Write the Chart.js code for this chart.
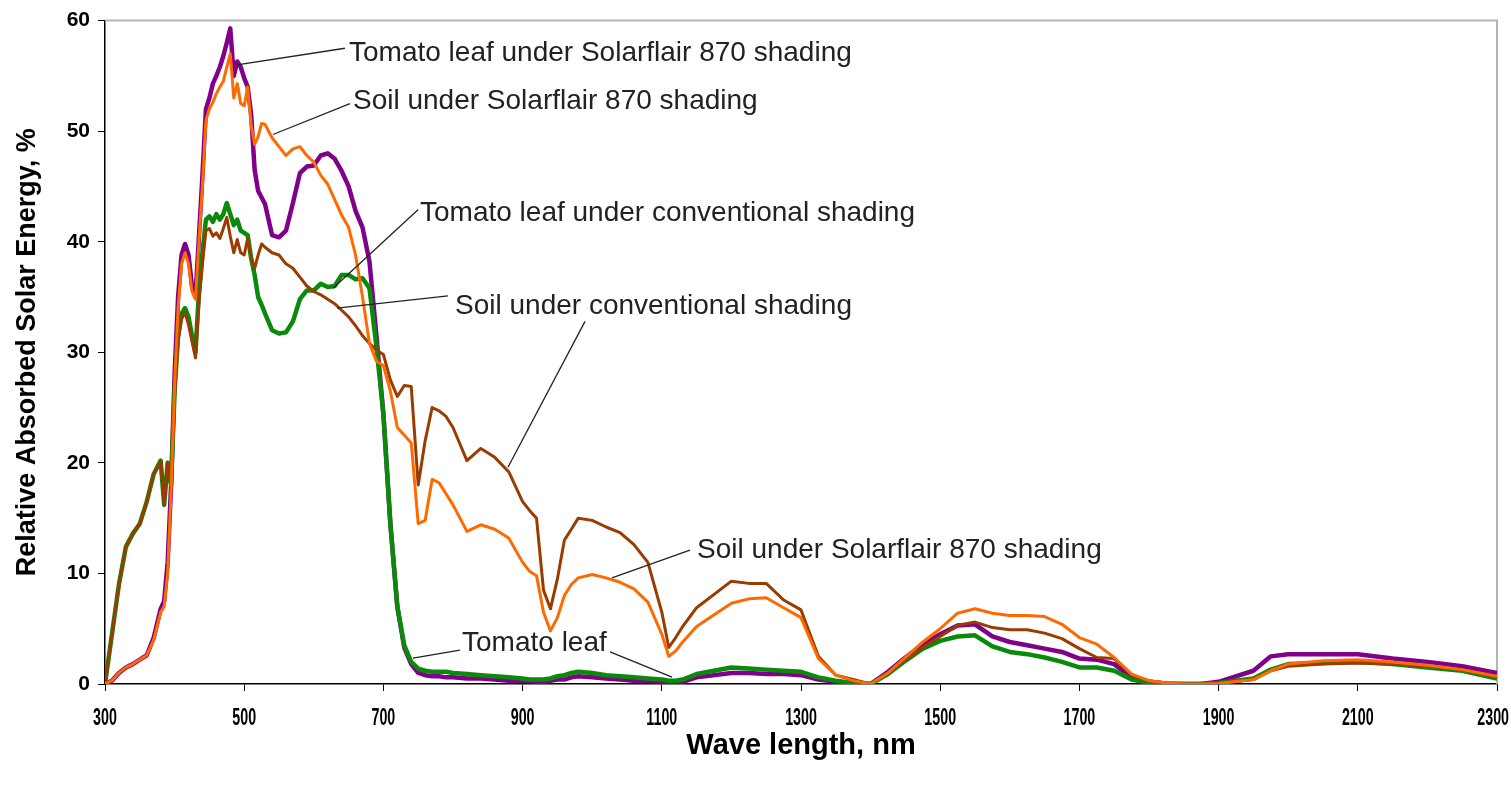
<!DOCTYPE html>
<html>
<head>
<meta charset="utf-8">
<script src="https://cdn.jsdelivr.net/npm/chart.js@4.4.1/dist/chart.umd.min.js"></script>
<style>
  body { margin: 0; background: #fff; }
  canvas { display: block; }
</style>
</head>
<body>
<canvas id="spectrumChart" width="1511" height="786"></canvas>
<script>
// wavelength grid, nm (rows of 10)
const wavelength = [
    300, 310, 320, 330, 340, 350, 360, 370, 380, 385,
    390, 395, 400, 405, 410, 415, 420, 425, 430, 435,
    440, 445, 450, 455, 460, 465, 470, 475, 480, 485,
    490, 495, 500, 505, 510, 515, 520, 525, 530, 540,
    550, 560, 570, 580, 590, 600, 610, 620, 630, 640,
    650, 660, 670, 680, 690, 700, 710, 720, 730, 740,
    750, 760, 770, 780, 790, 800, 820, 840, 860, 880,
    900, 910, 920, 930, 940, 950, 960, 970, 980, 1000,
    1020, 1040, 1060, 1080, 1100, 1110, 1120, 1130, 1150, 1200,
    1225, 1250, 1275, 1300, 1325, 1350, 1375, 1400, 1425, 1450,
    1475, 1500, 1525, 1550, 1575, 1600, 1625, 1650, 1675, 1700,
    1725, 1750, 1775, 1800, 1825, 1850, 1875, 1900, 1950, 1975,
    2000, 2050, 2100, 2150, 2200, 2250, 2300
];

// Tomato leaf under Solarflair 870 shading
const leafSolarflair = [
    0, 0.3, 1.0, 1.5, 1.8, 2.2, 2.6, 4.2, 6.8, 7.5,
    11, 18, 28, 35, 38.8, 39.8, 38.8, 36, 35, 40.5,
    46, 52, 53, 54.3, 55, 55.8, 56.8, 58, 59.3, 55,
    56.3, 55.8, 54.8, 54, 51.5, 46.5, 44.6, 44, 43.4, 40.6,
    40.4, 41, 43.5, 46.2, 46.8, 46.9, 47.8, 48, 47.5, 46.4,
    45, 42.8, 41.3, 38.2, 31.5, 24.4, 14.5, 7, 3.3, 1.8,
    1.0, 0.8, 0.7, 0.7, 0.6, 0.6, 0.5, 0.5, 0.4, 0.3,
    0.3, 0.3, 0.2, 0.2, 0.3, 0.4, 0.4, 0.6, 0.7, 0.6,
    0.5, 0.4, 0.3, 0.3, 0.2, 0.1, 0.1, 0.2, 0.6, 1.0,
    1.0, 0.9, 0.9, 0.8, 0.4, 0.2, 0.1, 0, 1.1, 2.4,
    3.6, 4.5, 5.3, 5.4, 4.3, 3.8, 3.5, 3.2, 2.9, 2.3,
    2.2, 1.8, 0.6, 0.2, 0.05, 0, 0, 0.2, 1.2, 2.5,
    2.7, 2.7, 2.7, 2.3, 2.0, 1.6, 1.0
];

// Soil under Solarflair 870 shading
const soilSolarflair = [
    0, 0.3, 1.0, 1.5, 1.8, 2.2, 2.6, 4.0, 6.5, 7.0,
    10, 17.5, 27, 34, 38, 39, 38, 35.5, 34.8, 40,
    45, 51, 52, 52.6, 53.4, 54, 54.5, 55.8, 57, 53,
    54.3, 52.5, 52.3, 54, 50.5, 48.8, 49.5, 50.7, 50.6, 49.4,
    48.6, 47.8, 48.4, 48.6, 47.8, 47.2, 46, 45.2, 43.8, 42.4,
    41.3, 38.8, 35, 30.8, 29.2, 28.8, 26.5, 23.2, 22.5, 21.8,
    14.5, 14.8, 18.5, 18.2, 17.2, 16.2, 13.8, 14.4, 14, 13.2,
    11, 10.2, 9.8, 6.5, 4.8, 6, 8, 9, 9.6, 9.9,
    9.6, 9.2, 8.6, 7.4, 4.5, 2.5, 3, 3.8, 5.2, 7.3,
    7.7, 7.8, 6.9, 6.0, 2.3, 0.8, 0.3, 0, 1.0, 2.4,
    3.8, 5.0, 6.4, 6.8, 6.4, 6.2, 6.2, 6.1, 5.4, 4.2,
    3.6, 2.4, 0.9, 0.3, 0.1, 0, 0, 0.05, 0.4, 1.2,
    1.8, 2.1, 2.2, 2.0, 1.7, 1.3, 0.7
];

// Tomato leaf under conventional shading
const leafConventional = [
    0, 4.5, 9, 12.4, 13.6, 14.5, 16.5, 19, 20.2, 16.2,
    20, 18, 26.5, 31.5, 33.5, 34, 33.2, 31.5, 30, 35.5,
    39, 42, 42.3, 41.8, 42.5, 42, 42.5, 43.5, 42.5, 41.5,
    42, 41, 40.8, 40.6, 38.5, 37, 35, 34.3, 33.5, 32,
    31.7, 31.8, 32.8, 34.8, 35.6, 35.6, 36.2, 35.9, 36, 37,
    37, 36.6, 36.7, 35.8, 30.5, 24.4, 14.5, 7, 3.5, 2.0,
    1.4, 1.2, 1.1, 1.1, 1.1, 1.0, 0.9, 0.8, 0.7, 0.6,
    0.5, 0.4, 0.4, 0.4, 0.5, 0.7, 0.8, 1.0, 1.1, 1.0,
    0.8, 0.7, 0.6, 0.5, 0.4, 0.3, 0.3, 0.4, 0.9, 1.5,
    1.4, 1.3, 1.2, 1.1, 0.6, 0.3, 0.1, 0, 0.9, 2.1,
    3.2, 3.9, 4.3, 4.4, 3.4, 2.9, 2.7, 2.4, 2.0, 1.5,
    1.5, 1.2, 0.4, 0.1, 0, 0, 0, 0.1, 0.5, 1.3,
    1.8, 1.9, 2.0, 1.8, 1.5, 1.2, 0.5
];

// Soil under conventional shading
const soilConventional = [
    0, 4.5, 9, 12.4, 13.6, 14.5, 16.5, 19, 20.2, 16.2,
    20, 18, 26, 31, 33, 33.6, 32.5, 31, 29.5, 34.5,
    38, 41, 41.2, 40.5, 40.8, 40.3, 41.2, 42.2, 40.5, 39,
    40.2, 39, 38.8, 40.3, 38.5, 37.6, 38.8, 39.8, 39.5, 39,
    38.8, 38, 37.6, 36.8, 36, 35.5, 35.2, 34.8, 34.4, 33.8,
    33.2, 32.4, 31.5, 30.8, 30.2, 29.8, 27.5, 26, 27, 26.9,
    18, 22, 25, 24.7, 24.2, 23.2, 20.2, 21.3, 20.5, 19.2,
    16.5, 15.7, 15, 8.5, 6.8, 9.5, 13, 14, 15, 14.8,
    14.2, 13.7, 12.6, 11, 6.5, 3.3, 4.2, 5.2, 6.9, 9.3,
    9.1, 9.1, 7.6, 6.7, 2.5, 0.8, 0.4, 0, 1.0, 2.2,
    3.3, 4.3, 5.3, 5.6, 5.1, 4.9, 4.9, 4.6, 4.1, 3.2,
    2.4, 2.3, 0.8, 0.3, 0.1, 0, 0, 0.05, 0.4, 1.2,
    1.6, 1.8, 1.9, 1.8, 1.6, 1.3, 0.6
];

const xTicks = [300, 500, 700, 900, 1100, 1300, 1500, 1700, 1900, 2100, 2300];
const yTicks = [0, 10, 20, 30, 40, 50, 60];

// callout labels: text position and leader lines in data units (nm, %)
const callouts = [
    { text: 'Tomato leaf under Solarflair 870 shading', at: [650.6, 57.0], lines: [[489.7, 56.0, 644.8, 57.5]] },
    { text: 'Soil under Solarflair 870 shading', at: [656.3, 52.7], lines: [[541.4, 49.7, 652, 52.5]] },
    { text: 'Tomato leaf under conventional shading', at: [752.6, 42.6], lines: [[627.6, 35.8, 749.7, 42.9]] },
    { text: 'Soil under conventional shading', at: [802.9, 34.2], lines: [[633.3, 34.0, 792.8, 35.1], [989.7, 32.8, 879, 19.6]] },
    { text: 'Soil under Solarflair 870 shading', at: [1150.6, 12.1], lines: [[1028.4, 9.6, 1140.5, 12.1]] },
    { text: 'Tomato leaf', at: [813, 3.7], lines: [[742.5, 2.35, 810, 3.07], [1025.6, 2.9, 1114.7, 0.63]] }
];

const toPoints = (vals) => vals.map((v, i) => ({ x: wavelength[i], y: v }));

// light grey frame on top and right
const framePlugin = {
    id: 'frame',
    beforeDatasetsDraw(chart) {
        const { ctx, chartArea: a } = chart;
        ctx.save();
        ctx.strokeStyle = '#b4b4b4';
        ctx.lineWidth = 2;
        ctx.beginPath();
        ctx.moveTo(a.left, a.top);
        ctx.lineTo(a.right, a.top);
        ctx.lineTo(a.right, a.bottom);
        ctx.stroke();
        ctx.restore();
    }
};

// x tick labels are narrow in the original, draw them condensed
const narrowTicksPlugin = {
    id: 'narrowTicks',
    afterDraw(chart) {
        const { ctx, scales: { x } } = chart;
        const squeeze = 0.62;
        ctx.save();
        ctx.fillStyle = '#000';
        ctx.font = 'bold 23px "Liberation Sans", Arial, sans-serif';
        ctx.textAlign = 'center';
        ctx.textBaseline = 'middle';
        x.ticks.forEach(t => {
            const label = String(t.value);
            const half = ctx.measureText(label).width * squeeze / 2;
            // keep the last label inside the canvas
            const cx = Math.min(x.getPixelForValue(t.value), chart.width - 2 - half);
            ctx.save();
            ctx.translate(cx, x.top + 35);
            ctx.scale(squeeze, 1);
            ctx.fillText(label, 0, 0);
            ctx.restore();
        });
        ctx.restore();
    }
};

const calloutPlugin = {
    id: 'callouts',
    afterDatasetsDraw(chart) {
        const { ctx, scales: { x, y } } = chart;
        ctx.save();
        ctx.strokeStyle = '#222';
        ctx.lineWidth = 1.3;
        ctx.fillStyle = '#222';
        ctx.font = '28px "Liberation Sans", Arial, sans-serif';
        ctx.textBaseline = 'middle';
        ctx.textAlign = 'left';
        callouts.forEach(c => {
            c.lines.forEach(([x1, y1, x2, y2]) => {
                ctx.beginPath();
                ctx.moveTo(x.getPixelForValue(x1), y.getPixelForValue(y1));
                ctx.lineTo(x.getPixelForValue(x2), y.getPixelForValue(y2));
                ctx.stroke();
            });
            ctx.fillText(c.text, x.getPixelForValue(c.at[0]), y.getPixelForValue(c.at[1]));
        });
        ctx.restore();
    }
};

const ctx = document.getElementById('spectrumChart').getContext('2d');
new Chart(ctx, {
    type: 'line',
    data: {
        datasets: [
            { label: 'Soil under Solarflair 870 shading', data: toPoints(soilSolarflair), borderColor: '#ff6a00', borderWidth: 3, order: 0 },
            { label: 'Soil under conventional shading', data: toPoints(soilConventional), borderColor: '#9a3b00', borderWidth: 3, order: 1 },
            { label: 'Tomato leaf under conventional shading', data: toPoints(leafConventional), borderColor: '#0a8a0a', borderWidth: 4.5, order: 2 },
            { label: 'Tomato leaf under Solarflair 870 shading', data: toPoints(leafSolarflair), borderColor: '#80008a', borderWidth: 4.5, order: 3 }
        ]
    },
    options: {
        responsive: false,
        devicePixelRatio: 1,
        animation: false,
        elements: { point: { radius: 0 }, line: { tension: 0, borderJoinStyle: 'round' } },
        layout: { padding: { left: 0, right: 14, top: 19, bottom: 0 } },
        plugins: { legend: { display: false }, tooltip: { enabled: false } },
        scales: {
            x: {
                type: 'linear',
                min: 300,
                max: 2300,
                afterBuildTicks: (scale) => { scale.ticks = xTicks.map(v => ({ value: v })); },
                afterFit: (scale) => {
                    scale.height = 102;
                    scale.paddingLeft = 0;
                    scale.paddingRight = 0;
                },
                grid: { drawOnChartArea: false, drawTicks: true, tickLength: 7, color: '#000' },
                border: { color: '#000', width: 1.5 },
                ticks: { display: false },
                title: {
                    display: true,
                    text: 'Wave length, nm',
                    color: '#000',
                    font: { family: '"Liberation Sans", Arial', size: 29, weight: 'bold' },
                    padding: { top: 0, bottom: 23 }
                }
            },
            y: {
                min: 0,
                max: 60,
                afterBuildTicks: (scale) => { scale.ticks = yTicks.map(v => ({ value: v })); },
                afterFit: (scale) => { scale.width = 105; },
                grid: { drawOnChartArea: false, drawTicks: true, tickLength: 7, color: '#000' },
                border: { color: '#000', width: 1.5 },
                ticks: {
                    color: '#000',
                    padding: 8,
                    font: { family: '"Liberation Sans", Arial', size: 21, weight: 'bold' }
                },
                title: {
                    display: true,
                    text: 'Relative Absorbed Solar Energy, %',
                    color: '#000',
                    font: { family: '"Liberation Sans", Arial', size: 27, weight: 'bold' },
                    padding: { top: 11, bottom: 0 }
                }
            }
        }
    },
    plugins: [framePlugin, calloutPlugin, narrowTicksPlugin]
});
</script>
</body>
</html>
